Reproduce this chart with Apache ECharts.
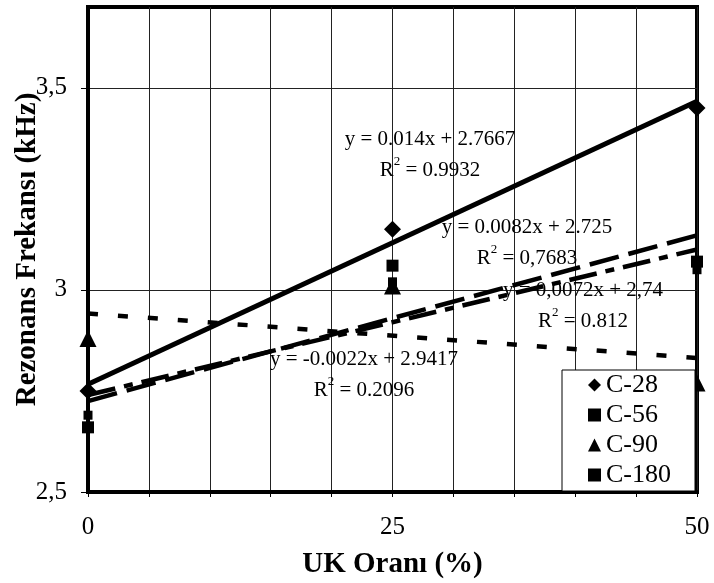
<!DOCTYPE html>
<html><head><meta charset="utf-8">
<script src="https://cdn.jsdelivr.net/npm/echarts@6/dist/echarts.min.js"></script>
<style>html,body{margin:0;padding:0;background:#fff}#c{width:714px;height:583px}</style>
</head><body><div id="c"></div>
<script>
// ---- data ----
const xValues = [0, 25, 50];
const c28 = [2.75, 3.15, 3.45];
const c56 = [2.66, 3.06, 3.07];
const c90 = [2.88, 3.01, 2.77];
const c180 = [2.69, 3.02, 3.05];
const seriesNames = ['C-28', 'C-56', 'C-90', 'C-180'];
const trendSlopes = [0.014, 0.0082, -0.0022, 0.0072];
const trendIntercepts = [2.7667, 2.725, 2.9417, 2.74];
const trendEquations = ['y = 0.014x + 2.7667', 'y = 0.0082x + 2.725', 'y = -0.0022x + 2.9417', 'y = 0,0072x + 2,74'];
const trendR2 = ['0.9932', '0,7683', '0.2096', '0.812'];
const xTickLabels = [0, 25, 50];
const yTickLabels = [2.5, 3, 3.5];
const xTitle = 'UK Oranı (%)';
const yTitle = 'Rezonans Frekansı (kHz)';

// ---- styles ----
const FONT = 'Liberation Serif';
const allY = [c28, c56, c90, c180];
const symbols = ['diamond', 'rect', 'triangle', 'rect'];
const symbolSizes = [17, 12, 17, 9];
const lineTypes = ['solid', [30, 10], [10, 20], [28, 9, 9, 9]];
const lineWidths = [5, 4.5, 4.5, 4.5];
const xMin = 0, xMax = 50;

const series = [];
seriesNames.forEach((name, i) => {
  series.push({
    name: name, type: 'scatter', symbol: symbols[i], symbolSize: symbolSizes[i],
    itemStyle: { color: '#000', opacity: 1 }, z: 3, clip: false,
    data: xValues.map((x, k) => [x, allY[i][k]])
  });
});
seriesNames.forEach((name, i) => {
  series.push({
    name: name + ' trend', type: 'line', symbol: 'none', clip: false, z: 4,
    lineStyle: { color: '#000', width: lineWidths[i], type: lineTypes[i], opacity: 1 },
    data: [xMin, xMax].map(x => [x, trendIntercepts[i] + trendSlopes[i] * x]),
    silent: true
  });
});

// annotation positions (pixel centre x, top y of equation line)
const annPos = [[430, 124], [527, 212], [364, 344], [583, 275]];
const graphics = annPos.map((p, i) => ({
  type: 'text', x: p[0], y: p[1], z: 10,
  style: {
    text: '{r|' + trendEquations[i] + '}\n{r|R}{s|2}{r| = ' + trendR2[i] + '}',
    fill: '#000', align: 'center', verticalAlign: 'top',
    rich: {
      r: { fontSize: 21, fontFamily: FONT, lineHeight: 31, fill: '#000' },
      s: { fontSize: 13, fontFamily: FONT, lineHeight: 31, verticalAlign: 'top', padding: [0, 0, 12, 0], fill: '#000' }
    }
  }
}));

const chart = echarts.init(document.getElementById('c'));
chart.setOption({
  animation: false,
  backgroundColor: '#fff',
  textStyle: { fontFamily: FONT },
  grid: { left: 88, right: 17, top: 7, bottom: 91, outerBoundsMode: 'none', containLabel: false,
    show: true, borderColor: '#000', borderWidth: 4, backgroundColor: 'transparent' },
  xAxis: {
    type: 'value', min: xMin, max: xMax, interval: 5,
    name: xTitle, nameLocation: 'middle', nameGap: 58, nameMoveOverlap: false,
    nameTextStyle: { fontFamily: FONT, fontSize: 29, fontWeight: 'bold', color: '#000' },
    axisLine: { lineStyle: { color: '#000', width: 4 } },
    axisTick: { show: true, length: 5, lineStyle: { color: '#000', width: 1 } },
    axisLabel: { fontFamily: FONT, fontSize: 25, color: '#000', margin: 23,
      formatter: v => xTickLabels.indexOf(v) >= 0 ? String(v) : '' },
    splitLine: { show: true, lineStyle: { color: '#222', width: 1 } }
  },
  yAxis: {
    type: 'value', min: 2.5, max: 3.7, interval: 0.5,
    name: yTitle, nameLocation: 'middle', nameGap: 46, nameRotate: 90, nameMoveOverlap: false,
    nameTextStyle: { fontFamily: FONT, fontSize: 29, fontWeight: 'bold', color: '#000' },
    axisLine: { show: true, lineStyle: { color: '#000', width: 4 } },
    axisTick: { show: true, length: 7, customValues: yTickLabels, lineStyle: { color: '#000', width: 1 } },
    axisLabel: { fontFamily: FONT, fontSize: 25, color: '#000', margin: 21,
      customValues: yTickLabels,
      formatter: v => String(v).replace('.', ',') },
    splitLine: { show: true, lineStyle: { color: '#222', width: 1 } }
  },
  legend: {
    orient: 'vertical', right: 19, top: 370,
    data: seriesNames.map((n, i) => ({ name: n, icon: symbols[i] })),
    itemWidth: 13, itemHeight: 13, itemGap: 4,
    textStyle: { fontFamily: FONT, fontSize: 26, color: '#000' },
    padding: [2, 24, 3, 26],
    backgroundColor: '#fff', borderColor: '#000', borderWidth: 1,
    itemStyle: { color: '#000', opacity: 1 }
  },
  graphic: graphics,
  series: series
});
</script></body></html>
